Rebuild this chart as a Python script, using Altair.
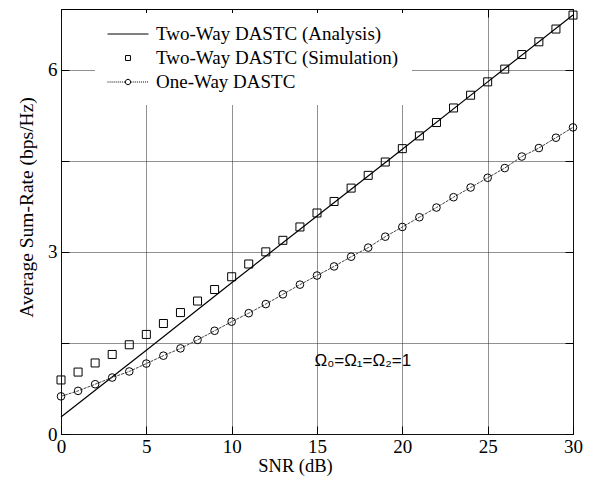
import altair as alt
import pandas as pd

# ---- data ----
snr = list(range(31))
sim_rate = [0.89, 1.02, 1.17, 1.31, 1.47, 1.64, 1.82, 2.00, 2.19, 2.38, 2.59,
            2.80, 3.00, 3.19, 3.41, 3.64, 3.83, 4.05, 4.26, 4.48, 4.70,
            4.91, 5.13, 5.37, 5.58, 5.80, 6.01, 6.25, 6.46, 6.67, 6.90]
oneway_rate = [0.62, 0.71, 0.82, 0.93, 1.03, 1.16, 1.29, 1.41, 1.55, 1.70, 1.85,
               1.99, 2.14, 2.30, 2.46, 2.61, 2.76, 2.92, 3.07, 3.25, 3.41,
               3.57, 3.73, 3.90, 4.06, 4.22, 4.38, 4.57, 4.71, 4.88, 5.05]
ana_snr = [0, 5, 10, 15, 20, 25, 30]
ana_rate = [0.28, 1.38, 2.49, 3.59, 4.69, 5.80, 6.90]

series_names = ["Two-Way DASTC (Analysis)", "Two-Way DASTC (Simulation)", "One-Way DASTC"]
x_ticks = [0, 5, 10, 15, 20, 25, 30]
y_ticks = [0, 1.5, 3, 4.5, 6]
note_text = ["Ω₀=Ω₁=Ω₂=1"]
note_x = [14.85]
note_y = [1.2]

ana_df = pd.DataFrame({"snr": ana_snr, "rate": ana_rate, "series": series_names[0]})
sim_df = pd.DataFrame({"snr": snr, "rate": sim_rate, "series": series_names[1]})
one_df = pd.DataFrame({"snr": snr, "rate": oneway_rate, "series": series_names[2]})
all_df = pd.concat([ana_df, sim_df, one_df], ignore_index=True)
note_df = pd.DataFrame({"snr": note_x, "rate": note_y, "label": note_text})

SERIF = "Liberation Serif"
xs = alt.Scale(domain=[0, 30], nice=False)
ys = alt.Scale(domain=[0, 7], nice=False)

# legend symbol paths (unit square -1..1)
def dotted(a, b, on=0.05, off=0.05):
    s, x = "", a
    while x < b - 1e-9:
        x2 = min(x + on, b)
        s += f"M{x:.3f},0H{x2:.3f}"
        x = x2 + off
    return s

p_line = "M-1,0H1"
p_square = "M-0.12,-0.12H0.12V0.12H-0.12Z"
r = 0.13
p_circle = f"M{-r},0A{r},{r},0,1,1,{r},0A{r},{r},0,1,1,{-r},0Z"
p_oneway = dotted(-1, -r) + dotted(r, 1) + p_circle

grid_kw = dict(grid=True, gridColor="#222222", gridDash=[1, 1], gridWidth=1, gridOpacity=1,
               domain=False, ticks=True, tickSize=8, tickColor="black", tickWidth=1, offset=-8,
               labelFlush=False)

x_bottom = alt.Axis(orient="bottom", values=x_ticks, title="SNR (dB)",
                    labelFont=SERIF, labelFontSize=19, labelColor="black", labelPadding=3,
                    titleFont=SERIF, titleFontSize=18.5, titleFontWeight="normal", titleColor="black",
                    titlePadding=0, titleX=234, **grid_kw)
y_left = alt.Axis(orient="left", values=y_ticks, title="Average Sum-Rate (bps/Hz)",
                  labelExpr="datum.value % 3 == 0 ? datum.label : ''",
                  labelFont=SERIF, labelFontSize=19, labelColor="black", labelPadding=4,
                  titleFont=SERIF, titleFontSize=19.5, titleFontWeight="normal", titleColor="black",
                  titlePadding=11, titleY=198, **grid_kw)
x_top = alt.Axis(orient="top", values=x_ticks, labels=False, title=None, grid=False, domain=False,
                 tickSize=8, tickColor="black", offset=-8)
y_right = alt.Axis(orient="right", values=y_ticks, labels=False, title=None, grid=False, domain=False,
                   tickSize=8, tickColor="black", offset=-8)

analysis = alt.Chart(ana_df).mark_line(color="black", strokeWidth=1.2).encode(
    x=alt.X("snr:Q", scale=xs, axis=x_bottom),
    y=alt.Y("rate:Q", scale=ys, axis=y_left),
)

one_line = alt.Chart(one_df).mark_line(color="#444444", strokeWidth=1, strokeDash=[3, 1]).encode(
    x=alt.X("snr:Q", scale=xs, axis=None),
    y=alt.Y("rate:Q", scale=ys, axis=None),
)
one_pts = alt.Chart(one_df).mark_point(shape="circle", size=58, filled=False, color="black",
                                       strokeWidth=1, opacity=1).encode(
    x=alt.X("snr:Q", scale=xs, axis=None),
    y=alt.Y("rate:Q", scale=ys, axis=None),
)
sim_pts = alt.Chart(sim_df).mark_point(shape="square", size=64, filled=False, color="black",
                                       strokeWidth=1, opacity=1).encode(
    x=alt.X("snr:Q", scale=xs, axis=x_top),
    y=alt.Y("rate:Q", scale=ys, axis=y_right),
)

legend_layer = alt.Chart(all_df).mark_point(color="black", filled=False, opacity=0).encode(
    x=alt.X("snr:Q", scale=xs, axis=None),
    y=alt.Y("rate:Q", scale=ys, axis=None),
    shape=alt.Shape("series:N",
                    scale=alt.Scale(domain=series_names, range=[p_line, p_square, p_oneway]),
                    legend=alt.Legend(orient="none", legendX=34, legendY=4, title=None,
                                      symbolSize=1681, symbolStrokeWidth=1, symbolOpacity=1,
                                      symbolStrokeColor="black", symbolFillColor="white",
                                      clipHeight=18, rowPadding=5, labelOffset=7,
                                      labelFont=SERIF, labelFontSize=19, labelColor="black",
                                      labelLimit=400, padding=12, fillColor="white",
                                      strokeColor="white")),
)

note = alt.Chart(note_df).mark_text(align="left", baseline="middle", font="Liberation Sans, DejaVu Sans",
                                    fontSize=17, color="black").encode(
    x=alt.X("snr:Q", scale=xs, axis=None),
    y=alt.Y("rate:Q", scale=ys, axis=None),
    text="label:N",
)

chart = alt.layer(analysis, one_line, one_pts, sim_pts, legend_layer, note).resolve_axis(
    x="independent", y="independent"
).properties(
    width=512, height=425,
    autosize=alt.AutoSizeParams(type="none"),
    padding={"left": 53, "top": 1, "right": 20, "bottom": 42},
    background="white",
).configure_view(stroke="black", strokeWidth=1)

chart.save("out.html", embed_options={"renderer": "svg", "actions": False})
